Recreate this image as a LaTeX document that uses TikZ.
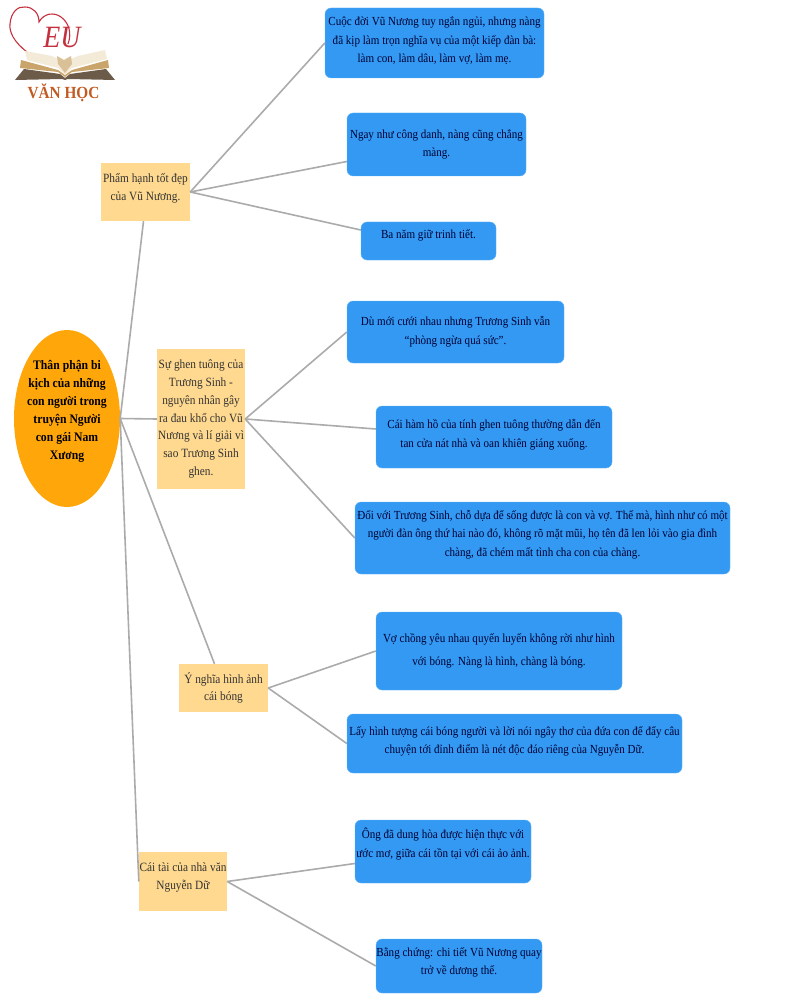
\documentclass[tikz,border=0pt]{standalone}
\usepackage{fontspec}
\setmainfont[FakeStretch=0.9]{Liberation Serif}
\usetikzlibrary{shapes.geometric}
\definecolor{leafblue}{HTML}{3399F3}
\definecolor{leafedge}{HTML}{62B4F7}
\definecolor{topicyellow}{HTML}{FFD98F}
\definecolor{rootorange}{HTML}{FFA60A}
\definecolor{linkgray}{HTML}{ABABAB}
\definecolor{logored}{HTML}{C5303E}
\definecolor{logobrown}{HTML}{C25A22}
\definecolor{bookcover}{HTML}{6B5B48}
\definecolor{booktan}{HTML}{C9A56B}
\definecolor{bookpage}{HTML}{F3EBD8}
\tikzset{
  leafbox/.style={draw=leafedge,fill=leafblue,rounded corners=6pt,inner sep=0pt,align=center,text=black!80!blue,font=\fontsize{12.3}{18.7}\selectfont},
  topicbox/.style={fill=topicyellow,inner sep=0pt,align=center,text=black!80,font=\fontsize{12.6}{17.8}\selectfont},
  rootnode/.style={ellipse,fill=rootorange,inner sep=-4pt,align=center,font=\fontsize{13}{18}\selectfont\bfseries},
  link/.style={draw=linkgray,line width=1.6pt}
}
\begin{document}
\begin{tikzpicture}[x=1pt,y=1pt,yscale=-1]
\useasboundingbox (0,0) rectangle (800,1000);
\node[rootnode,minimum width=106pt,minimum height=177pt] (root) at (67,418.5) {Thân phận bi\\kịch của những\\con người trong\\truyện Người\\con gái Nam\\Xương\\~};
\node[topicbox,minimum width=89pt,minimum height=58pt] (pham) at (145.5,192) {Phẩm hạnh tốt đẹp\\của Vũ Nương.\\[-7pt]~};
\node[topicbox,minimum width=88pt,minimum height=140pt] (ghen) at (201,419) {Sự ghen tuông của\\Trương Sinh -\\nguyên nhân gây\\ra đau khổ cho Vũ\\Nương và lí giải vì\\sao Trương Sinh\\ghen.};
\node[topicbox,minimum width=89pt,minimum height=48pt] (bong) at (223.5,688) {Ý nghĩa hình ảnh\\cái bóng};
\node[topicbox,minimum width=88pt,minimum height=59pt] (tai) at (183,881.5) {Cái tài của nhà văn\\Nguyễn Dữ\\[-7pt]~};
\node[leafbox,minimum width=219pt,minimum height=70pt] (a1) at (434.5,43) {Cuộc đời Vũ Nương tuy ngắn ngủi, nhưng nàng\\đã kịp làm trọn nghĩa vụ của một kiếp đàn bà:\\làm con, làm dâu, làm vợ, làm mẹ.\\[-12pt]~};
\node[leafbox,minimum width=179pt,minimum height=63pt] (a2) at (436.5,144.5) {Ngay như công danh, nàng cũng chẳng\\màng.};
\node[leafbox,minimum width=135pt,minimum height=38pt] (a3) at (428.5,241) {Ba năm giữ trinh tiết.\\[-4pt]~};
\node[leafbox,minimum width=217pt,minimum height=62pt] (b1) at (455.5,332) {Dù mới cưới nhau nhưng Trương Sinh vẫn\\“phòng ngừa quá sức”.};
\node[leafbox,minimum width=236pt,minimum height=62pt] (b2) at (494,437) {Cái hàm hồ của tính ghen tuông thường dẫn đến\\tan cửa nát nhà và oan khiên giáng xuống.\\[-12pt]~};
\node[leafbox,minimum width=375pt,minimum height=72pt] (b3) at (542.5,538) {Đối với Trương Sinh, chỗ dựa để sống được là con và vợ. Thế mà, hình như có một\\người đàn ông thứ hai nào đó, không rõ mặt mũi, họ tên đã len lỏi vào gia đình\\chàng, đã chém mất tình cha con của chàng.\\[-9pt]~};
\node[leafbox,minimum width=246pt,minimum height=78pt] (c1) at (499,651) {Vợ chồng yêu nhau quyến luyến không rời như hình\\[5pt]với bóng. Nàng là hình, chàng là bóng.};
\node[leafbox,minimum width=335pt,minimum height=59pt] (c2) at (514.5,743.5) {Lấy hình tượng cái bóng người và lời nói ngây thơ của đứa con để đẩy câu\\chuyện tới đỉnh điểm là nét độc đáo riêng của Nguyễn Dữ.\\[-12pt]~};
\node[leafbox,minimum width=176pt,minimum height=63pt] (d1) at (443,851.5) {Ông đã dung hòa được hiện thực với\\ước mơ, giữa cái tồn tại với cái ảo ảnh.\\[-1pt]~};
\node[leafbox,minimum width=166pt,minimum height=54pt] (d2) at (459,966) {Bằng chứng: chi tiết Vũ Nương quay\\trở về dương thế.\\[-9pt]~};
\draw[link] (root.east) -- ([xshift=-2pt]pham.south);
\draw[link] (root.east) -- (ghen.west);
\draw[link] (root.east) -- ([xshift=-9pt]bong.north);
\draw[link] (root.east) -- (tai.west);
\draw[link] (pham.east) -- (a1.west);
\draw[link] (pham.east) -- ([yshift=17pt]a2.west);
\draw[link] (pham.east) -- ([yshift=-11pt]a3.west);
\draw[link] (ghen.east) -- (b1.west);
\draw[link] (ghen.east) -- ([yshift=-8pt]b2.west);
\draw[link] (ghen.east) -- (b3.west);
\draw[link] (bong.east) -- (c1.west);
\draw[link] (bong.east) -- (c2.west);
\draw[link] (tai.east) -- ([yshift=12pt]d1.west);
\draw[link] (tai.east) -- (d2.west);
%logo
\draw[logored,line width=1.1pt] (27,52) .. controls (14,42) and (9,32) .. (10,24) .. controls (11,12) and (18,6) .. (25,7) .. controls (33,7) and (39,13) .. (39,22) .. controls (44,13) and (54,12) .. (61,17) .. controls (69,23) and (72,33) .. (68,44);
\fill[bookcover] (15,80) -- (24,69) -- (60,74) -- (65,78) -- (70,74) -- (106,69) -- (115,80) -- (68,79) -- (65,80) -- (62,79) -- cycle;
\fill[booktan] (21,60) -- (58,70) -- (65,75) -- (72,70) -- (108,60) -- (109,68) -- (72,72) -- (65,77) -- (58,72) -- (20,68) -- cycle;
\fill[bookpage] (25,51) -- (52,56) -- (64,62) -- (78,56) -- (105,50) -- (107,59) -- (72,68) -- (65,75) -- (58,68) -- (27,60) -- cycle;
\fill[booktan!70!white] (57,56) -- (64,60) -- (71,56) -- (72,64) -- (65,73) -- (58,64) -- cycle;
\node[logored,font=\fontsize{31}{31}\selectfont\itshape,inner sep=0pt] (logoeu) at (62,38) {EU};
\node[logobrown,font=\fontsize{17}{17}\selectfont\bfseries,inner sep=0pt] (logotext) at (63.5,92.5) {VĂN HỌC};
\end{tikzpicture}
\end{document}
